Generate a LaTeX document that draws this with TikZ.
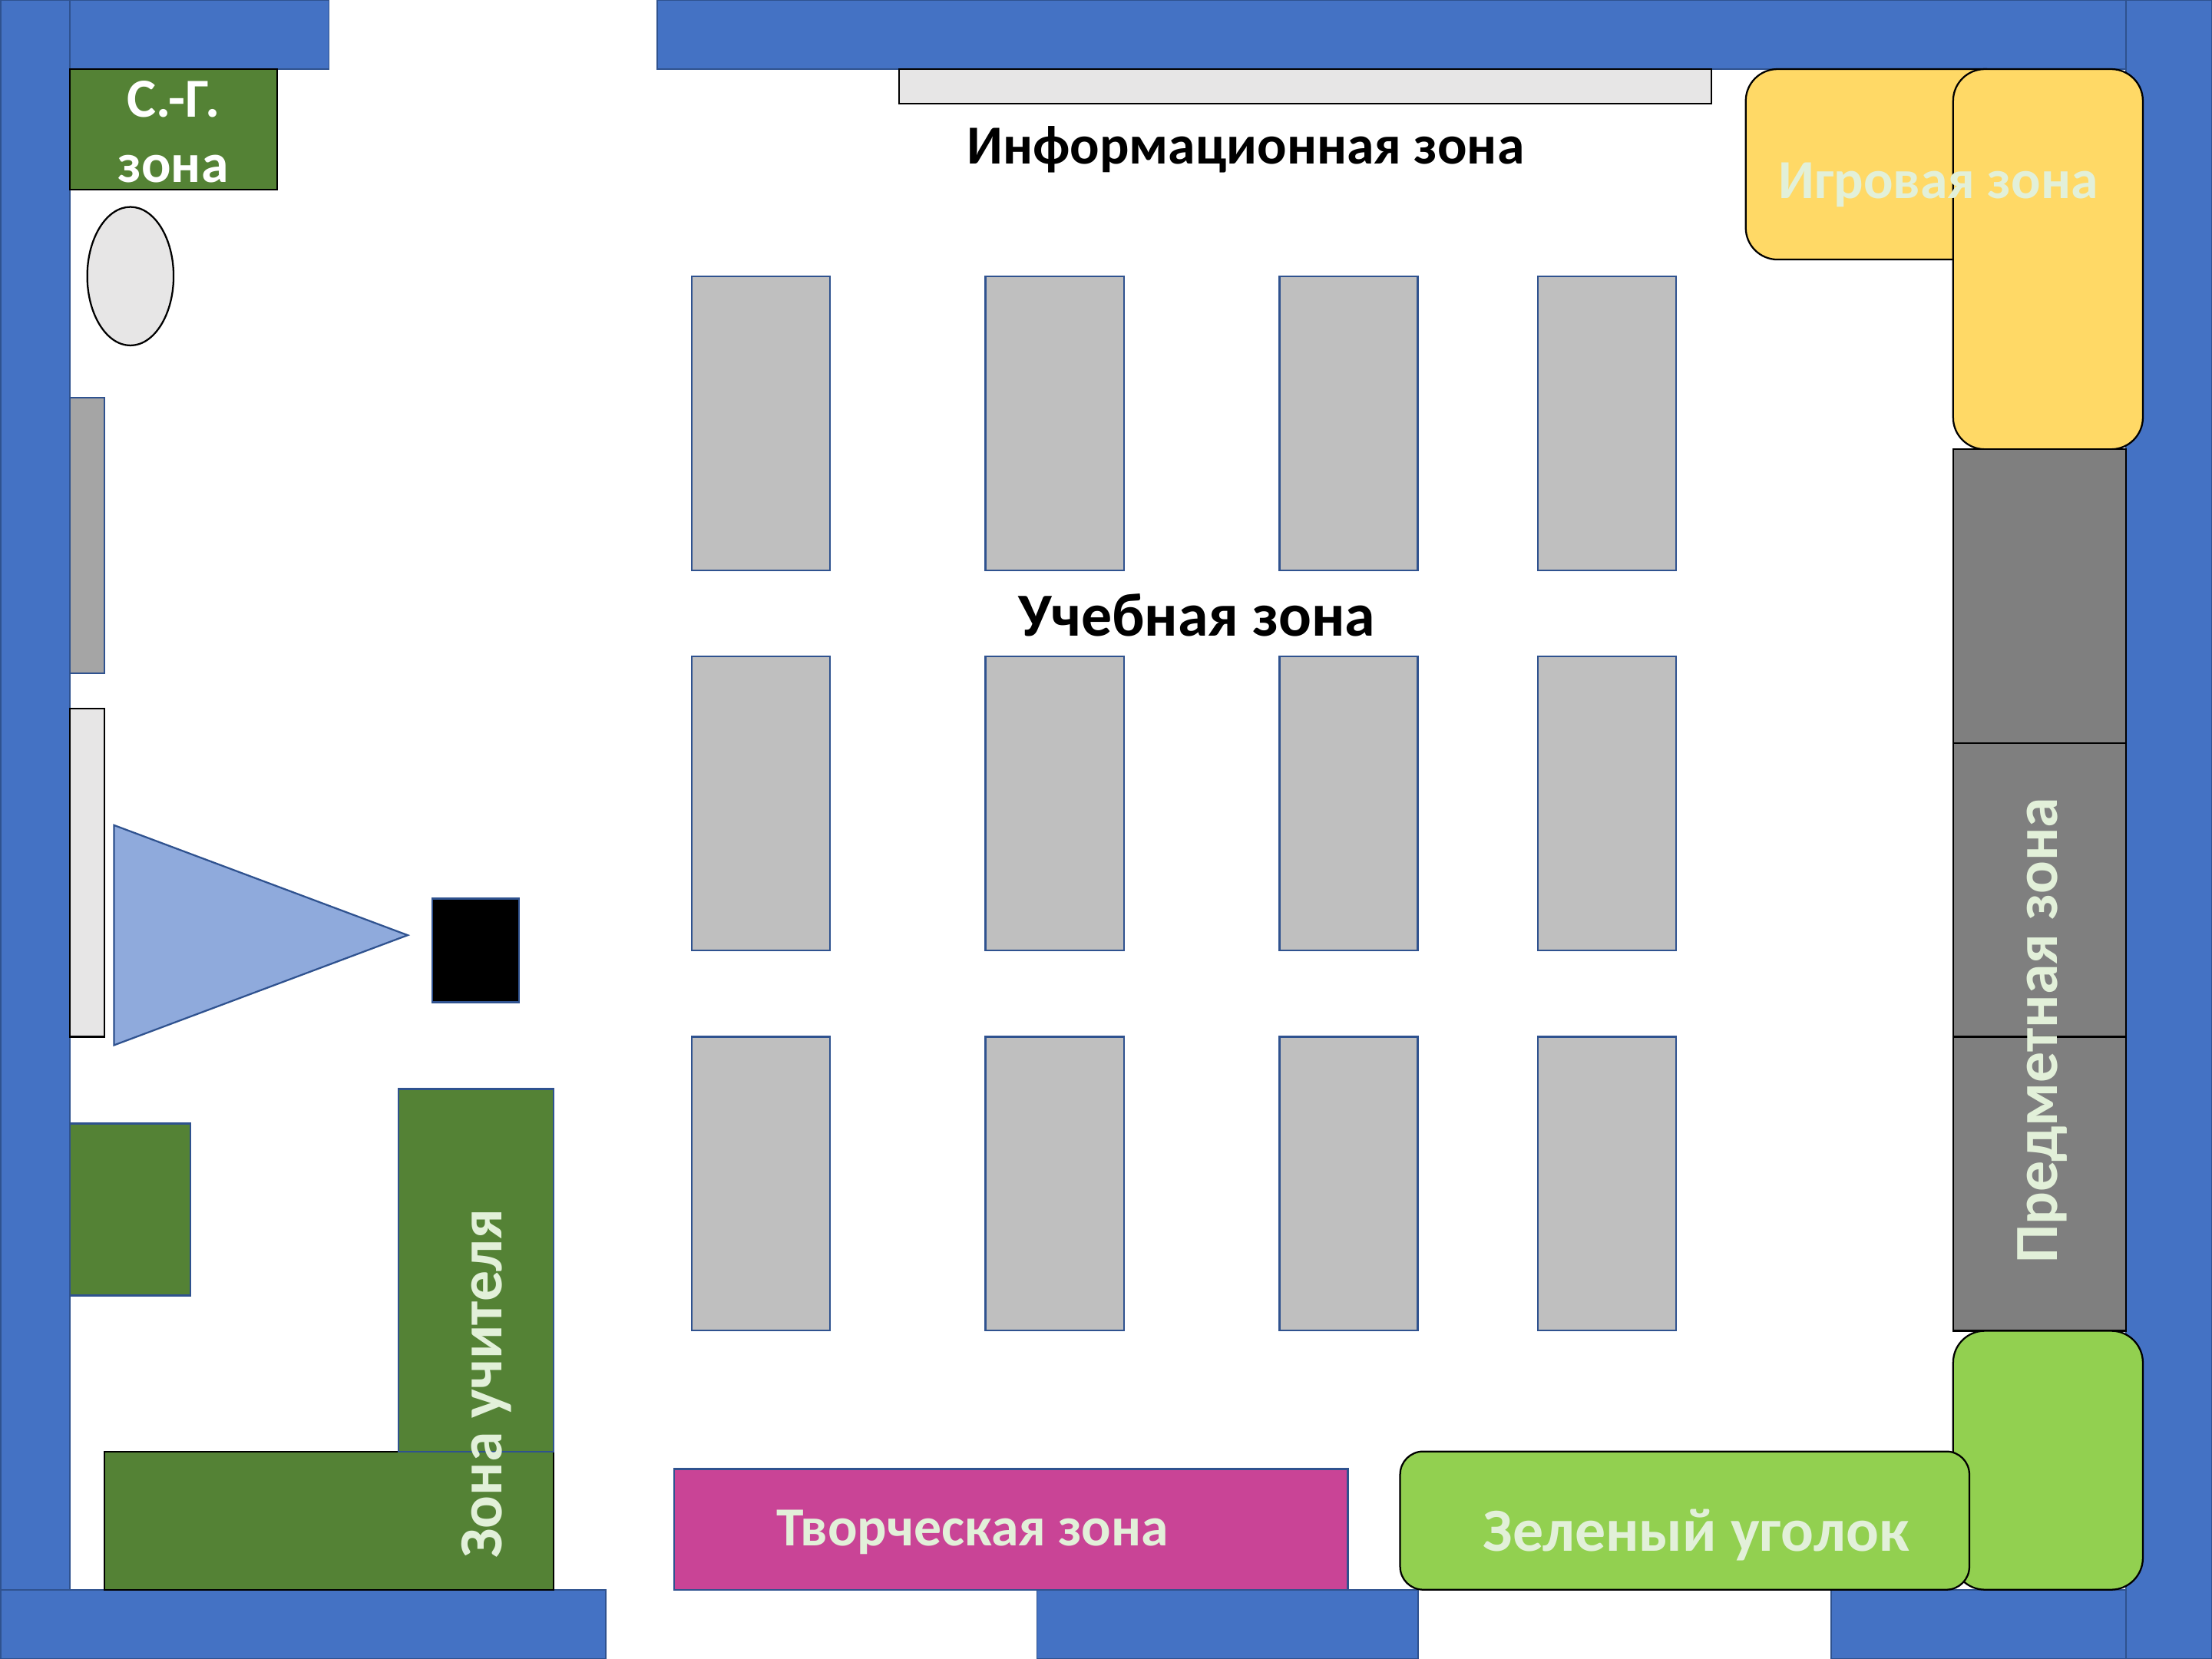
\documentclass[tikz,border=0pt]{standalone}
\usepackage{fontspec}
\setmainfont{Carlito}
\definecolor{wall}{HTML}{4472C4}
\definecolor{edgeb}{HTML}{2F528F}
\definecolor{dgreen}{HTML}{548235}
\definecolor{lgray}{HTML}{E7E6E6}
\definecolor{dsk}{HTML}{BFBFBF}
\definecolor{mgray}{HTML}{A5A5A5}
\definecolor{dgray}{HTML}{7F7F7F}
\definecolor{tri}{HTML}{8FAADC}
\definecolor{yel}{HTML}{FFD966}
\definecolor{lgreen}{HTML}{92D050}
\definecolor{mag}{HTML}{C94496}
\definecolor{pale}{HTML}{E2F0D9}
\tikzset{x=0.01cm,y=-0.01cm,
 wallbox/.style={fill=wall,draw=edgeb,line width=0.3pt},
 desk/.style={fill=dsk,draw=edgeb,line width=0.35pt},
 blk/.style={draw=black,line width=0.35pt},
 blue/.style={draw=edgeb,line width=0.35pt},
 labelS/.style={font=\fontsize{11.1}{13}\selectfont\bfseries,inner sep=0pt},
 labelL/.style={font=\fontsize{12.35}{14}\selectfont\bfseries,inner sep=0pt},
 rndbig/.style={rounded corners=0.225cm},
 rndsmall/.style={rounded corners=0.163cm}}
\begin{document}
\begin{tikzpicture}
\useasboundingbox (0,0) rectangle (1568,1176);
\fill[white] (0,0) rectangle (1568,1176);
% walls
\draw[wallbox] (0.5,0) rectangle (233.2,49);
\draw[wallbox] (466,0) rectangle (1507,49);
\draw[wallbox] (0.5,0) rectangle (49.4,1176);
\draw[wallbox] (1507,0) rectangle (1568,1176);
\draw[wallbox] (0.5,1127) rectangle (429.2,1176);
\draw[wallbox] (735,1127) rectangle (1005,1176);
\draw[wallbox] (1298,1127) rectangle (1507,1176);
% top
\draw[blk,fill=lgray] (637.5,49) rectangle (1213,73.5);
\node[labelS] (info) at (883,106) {Информационная зона};
\draw[blk,fill=dgreen] (49.4,48.8) rectangle (196.6,134.6);
\node[labelS,text=white] (sg1) at (123,70.5) {С.-Г.};
\node[labelS,text=white] (sg2) at (122.8,119.5) {зона};
\draw[blk,fill=lgray] (92.45,195.8) ellipse (30.6 and 49.1);
% left
\draw[blue,fill=mgray] (49.4,282) rectangle (74.2,477.5);
\draw[blk,fill=lgray] (49.4,502.3) rectangle (74.2,735);
\draw[blue,fill=tri] (80.8,585) -- (289,663) -- (80.8,741) -- cycle;
\draw[blue,fill=black] (306.5,637) rectangle (368,710.5);
\draw[blue,fill=dgreen] (49.4,796.5) rectangle (135.1,918.5);
\draw[blk,fill=dgreen] (74.2,1029) rectangle (392.5,1127);
\draw[blue,fill=dgreen] (282.3,772) rectangle (392.5,1029);
\node[labelL,text=pale,rotate=90] (teach) at (345,981) {Зона учителя};
% desks
\foreach \dx in {490.3,698.6,907,1090.3}{
 \foreach \dy in {196,465.5,735}{
  \draw[desk] (\dx,\dy) rectangle ++(98,208.2);
 }
}
\node[labelL] (study) at (848.5,436) {Учебная зона};
% bottom
\draw[blue,fill=mag] (478,1041.5) rectangle (955.5,1127);
\node[labelS,text=pale] (art) at (689.3,1086.5) {Творческая зона};
% yellow
\draw[blk,fill=yel,rndbig] (1237.5,49) rectangle (1430,184);
\draw[blk,fill=yel,rndbig] (1384.5,49) rectangle (1519,318.5);
\node[labelS,text=pale] (play) at (1374,131) {Игровая зона};
% subject
\draw[blk,fill=dgray] (1384.5,318.5) rectangle (1507,527);
\draw[blk,fill=dgray] (1384.5,527) rectangle (1507,735);
\draw[blk,fill=dgray] (1384.5,735) rectangle (1507,943.5);
\node[labelL,text=pale,rotate=90] (subj) at (1448,730.5) {Предметная зона};
% green
\draw[blk,fill=lgreen,rndbig] (1384.5,943.5) rectangle (1519,1127);
\draw[blk,fill=lgreen,rndsmall] (992.5,1029) rectangle (1396,1127);
\node[labelL,text=pale] (corner) at (1202.5,1088.5) {Зеленый уголок};
\end{tikzpicture}
\end{document}
